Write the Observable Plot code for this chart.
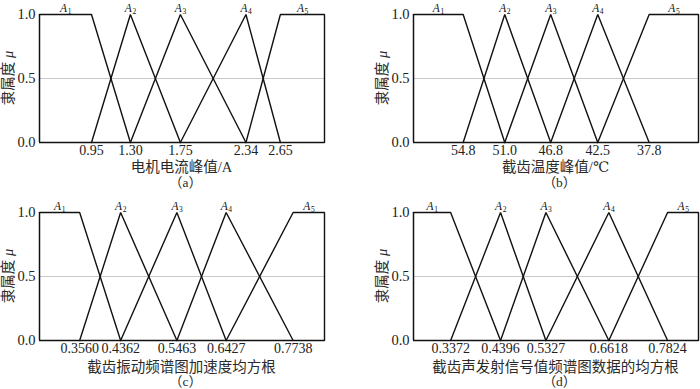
<!DOCTYPE html>
<html><head><meta charset="utf-8">
<script src="https://cdn.jsdelivr.net/npm/d3@7"></script>
<script src="https://cdn.jsdelivr.net/npm/@observablehq/plot@0.6"></script>
<style>
body{margin:0;background:#fff;}
#root{position:relative;width:700px;height:389px;overflow:hidden;font-family:"Liberation Serif","Times New Roman","DejaVu Serif","Noto Sans CJK SC",serif;color:#222;}
.panel{position:absolute;width:350px;height:195px;}
.panel svg{position:absolute;left:0;top:0;}
.xl{position:absolute;text-align:center;font-size:14.5px;white-space:nowrap;line-height:16px;height:16px;color:#2a2a2a;}
.cap{position:absolute;text-align:center;font-size:13.5px;white-space:nowrap;line-height:12px;height:12px;color:#2a2a2a;}
.yl{position:absolute;width:100px;height:18px;line-height:18px;text-align:center;font-size:14.5px;transform:rotate(-90deg);transform-origin:50% 50%;white-space:nowrap;color:#2a2a2a;}
</style></head><body><div id="root"></div>
<script>
// ---- data ----
const memberIds = ["1", "2", "3", "4", "5"];
const yTicks = [0, 0.5, 1];
const yTitle = "隶属度";
const yTitleSymbol = "μ";

const breaksA = [0.95, 1.30, 1.75, 2.34, 2.65];
const breaksB = [54.8, 51.0, 46.8, 42.5, 37.8];
const breaksC = [0.3560, 0.4362, 0.5463, 0.6427, 0.7738];
const breaksD = [0.3372, 0.4396, 0.5327, 0.6618, 0.7824];

const domainA = [0.482, 3.047];
const domainB = [59.34, 33.29];
const domainC = [0.2774, 0.8352];
const domainD = [0.2610, 0.8458];

const formatA = ".2f", formatB = ".1f", formatC = ".4f", formatD = ".4f";

const titleA = "电机电流峰值/A";
const titleB = "截齿温度峰值/℃";
const titleC = "截齿振动频谱图加速度均方根";
const titleD = "截齿声发射信号值频谱图数据的均方根";

const captionA = "（a）", captionB = "（b）", captionC = "（c）", captionD = "（d）";

// ---- layout ----
const panels = [
  {breaks: breaksA, domain: domainA, fmt: formatA, title: titleA, caption: captionA, left: 0, top: 0, ml: 39, mr: 26, xlTop: 159, capTop: 177},
  {breaks: breaksB, domain: domainB, fmt: formatB, title: titleB, caption: captionB, left: 350, top: 0, ml: 63, mr: 2, xlTop: 159, capTop: 177},
  {breaks: breaksC, domain: domainC, fmt: formatC, title: titleC, caption: captionC, left: 0, top: 198, ml: 39, mr: 26, xlTop: 161, capTop: 178},
  {breaks: breaksD, domain: domainD, fmt: formatD, title: titleD, caption: captionD, left: 350, top: 198, ml: 63, mr: 2, xlTop: 161, capTop: 178}
];

const root = document.getElementById("root");
const FONT = "'Liberation Serif','Times New Roman','DejaVu Serif','Noto Sans CJK SC',serif";

function shapes(b, dom) {
  const [lo, hi] = dom;
  const polys = [
    [[lo, 1], [b[0], 1], [b[1], 0]],
    [[b[0], 0], [b[1], 1], [b[2], 0]],
    [[b[1], 0], [b[2], 1], [b[3], 0]],
    [[b[2], 0], [b[3], 1], [b[4], 0]],
    [[b[3], 0], [b[4], 1], [hi, 1], [hi, 0]]
  ];
  const rows = [];
  polys.forEach((p, i) => p.forEach(([x, y]) => rows.push({x, y, k: memberIds[i]})));
  return rows;
}
function labelPos(b, dom) {
  const [lo, hi] = dom;
  const xs = [(lo + b[0]) / 2, b[1], b[2], b[3], (b[4] + hi) / 2];
  return memberIds.map((id, i) => ({x: xs[i], id}));
}

for (const p of panels) {
  const div = document.createElement("div");
  div.className = "panel";
  div.style.left = p.left + "px";
  div.style.top = p.top + "px";
  const W = 350, mt = 14, mb = 18, H = mt + 128 + mb;
  const labs = labelPos(p.breaks, p.domain);
  const chart = Plot.plot({
    width: W, height: H,
    marginLeft: p.ml, marginRight: p.mr, marginTop: mt, marginBottom: mb,
    style: {fontSize: "14px", fontFamily: FONT, color: "#222", background: "transparent", overflow: "visible"},
    x: {domain: p.domain, axis: null},
    y: {domain: [0, 1], axis: null},
    marks: [
      Plot.ruleY([0.5], {stroke: "#c8c8c8", strokeWidth: 1}),
      Plot.ruleY([0], {stroke: "#111", strokeWidth: 1.5}),
      Plot.ruleX([p.domain[0]], {y1: 0, y2: 1, stroke: "#111", strokeWidth: 1.5}),
      Plot.line(shapes(p.breaks, p.domain), {x: "x", y: "y", z: "k", stroke: "#111", strokeWidth: 1.4, strokeLinejoin: "miter"}),
      Plot.axisX({ticks: p.breaks, tickSize: 0, tickPadding: 3, tickFormat: d3.format(p.fmt), label: null, fontSize: 14, fontFamily: FONT}),
      Plot.axisY({ticks: yTicks, tickSize: 0, tickPadding: 4, tickFormat: d3.format(".1f"), label: null, fontSize: 14.5, fontFamily: FONT}),
      Plot.text(labs, {x: "x", y: () => 1, text: () => "A", fontStyle: "italic", fontSize: 11.5, fontFamily: FONT, dx: -2, dy: -6, fill: "#111"}),
      Plot.text(labs, {x: "x", y: () => 1, text: "id", fontSize: 7.5, fontFamily: FONT, dx: 4, dy: -3, fill: "#111"})
    ]
  });
  div.appendChild(chart);

  const plotW = W - p.ml - p.mr;
  const xl = document.createElement("div");
  xl.className = "xl";
  xl.style.left = p.ml + "px"; xl.style.width = plotW + "px"; xl.style.top = p.xlTop + "px";
  xl.textContent = p.title;
  div.appendChild(xl);

  const cap = document.createElement("div");
  cap.className = "cap";
  cap.style.left = (p.ml + 4) + "px"; cap.style.width = plotW + "px"; cap.style.top = p.capTop + "px";
  cap.textContent = p.caption;
  div.appendChild(cap);

  const yl = document.createElement("div");
  yl.className = "yl";
  const cx = p.ml - 31, cy = mt + 64;
  yl.style.left = (cx - 50) + "px"; yl.style.top = (cy - 9) + "px";
  yl.innerHTML = yTitle + ' <i>' + yTitleSymbol + '</i>';
  div.appendChild(yl);

  root.appendChild(div);
}
</script>
</body></html>
